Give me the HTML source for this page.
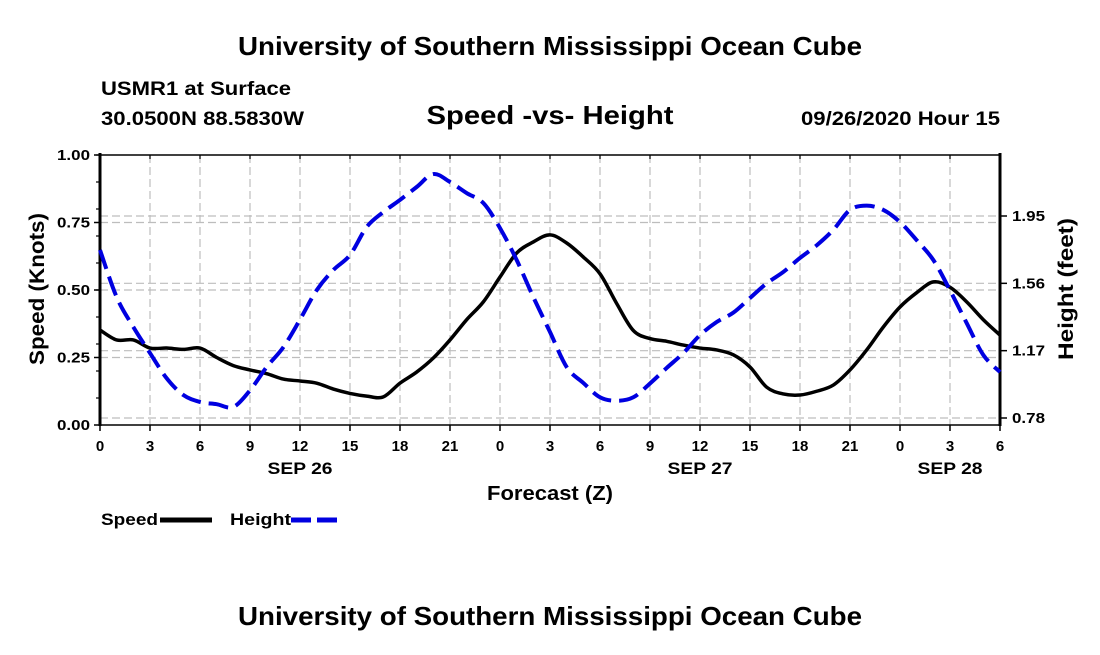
<!DOCTYPE html>
<html><head><meta charset="utf-8"><style>
body{margin:0;background:#fff;}
svg text{font-family:"Liberation Sans",Arial,sans-serif;font-weight:bold;fill:#000;}
</style></head><body>
<svg id="chart" width="1100" height="650" viewBox="0 0 1100 650" xmlns="http://www.w3.org/2000/svg">
<rect width="1100" height="650" fill="#fff"/>
<text x="550" y="55" font-size="26" text-anchor="middle" textLength="624" lengthAdjust="spacingAndGlyphs">University of Southern Mississippi Ocean Cube</text>
<text x="101" y="95" font-size="19" textLength="190" lengthAdjust="spacingAndGlyphs">USMR1 at Surface</text>
<text x="101" y="125" font-size="19" textLength="203" lengthAdjust="spacingAndGlyphs">30.0500N 88.5830W</text>
<text x="550" y="124" font-size="26" text-anchor="middle" textLength="247" lengthAdjust="spacingAndGlyphs">Speed -vs- Height</text>
<text x="801" y="125" font-size="19" textLength="199" lengthAdjust="spacingAndGlyphs">09/26/2020 Hour 15</text>
<g id="grid"></g>
<g id="axes"></g>
<g id="series"></g>
<text transform="translate(44,289) rotate(-90)" font-size="21" text-anchor="middle" textLength="152" lengthAdjust="spacingAndGlyphs">Speed (Knots)</text>
<text transform="translate(1073,289) rotate(-90)" font-size="21" text-anchor="middle" textLength="142" lengthAdjust="spacingAndGlyphs">Height (feet)</text>
<text x="550" y="500" font-size="20" text-anchor="middle" textLength="126" lengthAdjust="spacingAndGlyphs">Forecast (Z)</text>
<text x="300" y="474" font-size="17" text-anchor="middle" textLength="65" lengthAdjust="spacingAndGlyphs">SEP 26</text>
<text x="700" y="474" font-size="17" text-anchor="middle" textLength="65" lengthAdjust="spacingAndGlyphs">SEP 27</text>
<text x="950" y="474" font-size="17" text-anchor="middle" textLength="65" lengthAdjust="spacingAndGlyphs">SEP 28</text>
<g>
<text x="101" y="525" font-size="17" textLength="57" lengthAdjust="spacingAndGlyphs">Speed</text>
<line x1="160" y1="520" x2="212" y2="520" stroke="#000" stroke-width="5"/>
<text x="230" y="525" font-size="17" textLength="61" lengthAdjust="spacingAndGlyphs">Height</text>
<line x1="291" y1="520" x2="343" y2="520" stroke="#0000e0" stroke-width="5" stroke-dasharray="20 6"/>
</g>
<text x="550" y="625" font-size="26" text-anchor="middle" textLength="624" lengthAdjust="spacingAndGlyphs">University of Southern Mississippi Ocean Cube</text>
</svg>
<script>
const hours=[0,1,2,3,4,5,6,7,8,9,10,11,12,13,14,15,16,17,18,19,20,21,22,23,24,25,26,27,28,29,30,31,32,33,34,35,36,37,38,39,40,41,42,43,44,45,46,47,48,49,50,51,52,53,54];
const speed=[.352,.315,.315,.285,.285,.28,.285,.25,.22,.204,.19,.17,.163,.155,.133,.117,.107,.104,.155,.196,.248,.315,.39,.456,.548,.637,.678,.704,.674,.622,.56,.45,.35,.32,.31,.296,.285,.278,.26,.215,.14,.115,.111,.125,.148,.204,.278,.363,.437,.49,.53,.51,.456,.39,.333];
const height=[1.753,1.48,1.307,1.156,1.01,.913,.873,.86,.844,.94,1.075,1.19,1.35,1.52,1.637,1.724,1.886,1.973,2.043,2.118,2.193,2.147,2.083,2.025,1.88,1.695,1.48,1.278,1.075,.983,.90,.88,.90,.98,1.07,1.156,1.26,1.336,1.39,1.475,1.56,1.626,1.707,1.78,1.87,1.985,2.01,1.985,1.915,1.81,1.695,1.52,1.33,1.145,1.046];
const xTickLabels=["0","3","6","9","12","15","18","21","0","3","6","9","12","15","18","21","0","3","6"];
const leftTicks=[0,0.25,0.5,0.75,1.0];
const leftTickLabels=["0.00","0.25","0.50","0.75","1.00"];
const rightTicks=[0.78,1.17,1.56,1.95];
const rightTickLabels=["0.78","1.17","1.56","1.95"];

const L=100,R=1000,T=155,B=425;
const xS=h=>L+(h/54)*(R-L);
const yS=v=>B-v*(B-T);
const yH=v=>418-(v-0.78)*(202/1.17);
const NS="http://www.w3.org/2000/svg";
function mk(tag,attrs,parent){const e=document.createElementNS(NS,tag);for(const k in attrs)e.setAttribute(k,attrs[k]);parent.appendChild(e);return e;}
function smooth(pts){let d="M"+pts[0][0]+","+pts[0][1];
 for(let i=0;i<pts.length-1;i++){const p0=pts[i-1]||pts[i],p1=pts[i],p2=pts[i+1],p3=pts[i+2]||p2;
  const c1=[p1[0]+(p2[0]-p0[0])/6,p1[1]+(p2[1]-p0[1])/6],c2=[p2[0]-(p3[0]-p1[0])/6,p2[1]-(p3[1]-p1[1])/6];
  d+=" C"+c1[0]+","+c1[1]+" "+c2[0]+","+c2[1]+" "+p2[0]+","+p2[1];}
 return d;}
const grid=document.getElementById('grid'),axes=document.getElementById('axes'),series=document.getElementById('series');
const gs={stroke:"#bdbdbd","stroke-width":1.2,"stroke-dasharray":"8 4"};
xTickLabels.forEach((t,i)=>{const x=xS(i*3);
 if(i>0&&i<xTickLabels.length-1){const g=mk('line',Object.assign({x1:x,y1:T,x2:x,y2:B},gs),grid);
 
 }
 const tk=mk('line',{x1:x,y1:B,x2:x,y2:B+6,stroke:"#000","stroke-width":1.5},axes);
 
 
 mk('line',{x1:x,y1:T,x2:x,y2:T+4,stroke:"#000","stroke-width":1.2},axes);
 const tx=mk('text',{x:x,y:B+26,"font-size":15,"text-anchor":"middle"},axes);tx.textContent=t;
 
 
});
leftTicks.forEach((v,i)=>{const y=yS(v);
 if(v>0&&v<1){const g=mk('line',Object.assign({x1:L,y1:y,x2:R,y2:y},gs),grid);
 
 }
 mk('line',{x1:L-6,y1:y,x2:L,y2:y,stroke:"#000","stroke-width":1.5},axes);
 const tx=mk('text',{x:L-10,y:y+5,"font-size":15,"text-anchor":"end",textLength:33,lengthAdjust:"spacingAndGlyphs"},axes);tx.textContent=leftTickLabels[i];
 
 
});
for(let v=0.1;v<1;v+=0.1){const y=yS(v);mk('line',{x1:L-4,y1:y,x2:L,y2:y,stroke:"#000","stroke-width":1.2},axes);}
rightTicks.forEach((v,i)=>{const y=yH(v);
 const g=mk('line',Object.assign({x1:L,y1:y,x2:R,y2:y},gs),grid);
 
 
 mk('line',{x1:R,y1:y,x2:R+7,y2:y,stroke:"#000","stroke-width":1.5},axes);
 const tx=mk('text',{x:R+12,y:y+5,"font-size":15,textLength:33,lengthAdjust:"spacingAndGlyphs"},axes);tx.textContent=rightTickLabels[i];
 
 
});
const frame=mk('rect',{x:L,y:T,width:R-L,height:B-T,fill:"none",stroke:"#000","stroke-width":1.5},axes);


const la=mk('line',{x1:L,y1:T-2,x2:L,y2:B+1,stroke:"#000","stroke-width":3},axes);


const ra=mk('line',{x1:R,y1:T-2,x2:R,y2:B+1,stroke:"#000","stroke-width":3},axes);


const sp=mk('path',{d:smooth(hours.map((h,i)=>[xS(h),yS(speed[i])])),fill:"none",stroke:"#000","stroke-width":3.5,"stroke-linejoin":"round"},series);


const ht=mk('path',{d:smooth(hours.map((h,i)=>[xS(h),yH(height[i])])),fill:"none",stroke:"#0000e0","stroke-width":4,"stroke-dasharray":"20 8","stroke-linejoin":"round"},series);


</script>
</body></html>
